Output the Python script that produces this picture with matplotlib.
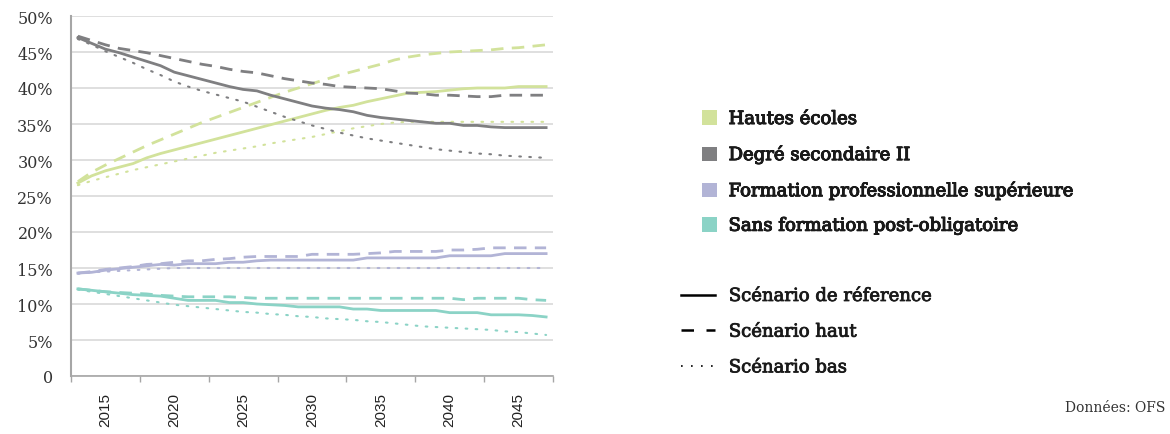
import matplotlib
matplotlib.use("Agg")
import matplotlib.pyplot as plt
from matplotlib.patches import Patch
from matplotlib.lines import Line2D
import matplotlib.patheffects as pe
import numpy as np

years = list(range(2013, 2048))

he_ref = [26.8, 27.8, 28.5, 29.0, 29.5, 30.3, 30.9, 31.4, 31.9, 32.4, 32.9, 33.4, 33.9, 34.4, 34.9,
          35.4, 35.9, 36.4, 36.9, 37.3, 37.6, 38.1, 38.5, 38.9, 39.3, 39.4, 39.5, 39.7, 39.9, 40.0,
          40.0, 40.0, 40.2, 40.2, 40.2]
he_high = [27.0, 28.3, 29.3, 30.2, 31.1, 32.0, 32.8, 33.6, 34.4, 35.2, 35.9, 36.6, 37.3, 38.0, 38.7,
           39.4, 40.0, 40.6, 41.2, 41.8, 42.3, 42.8, 43.3, 43.9, 44.3, 44.6, 44.8, 45.0, 45.1, 45.2,
           45.3, 45.5, 45.6, 45.8, 46.0]
he_low = [26.5, 27.1, 27.6, 28.1, 28.6, 29.0, 29.4, 29.8, 30.2, 30.6, 31.0, 31.3, 31.6, 31.9, 32.3,
          32.6, 32.9, 33.2, 33.6, 34.0, 34.4, 34.7, 35.0, 35.2, 35.3, 35.3, 35.3, 35.3, 35.3, 35.3,
          35.3, 35.3, 35.3, 35.3, 35.3]

ds_ref = [47.0, 46.2, 45.4, 44.9, 44.3, 43.7, 43.1, 42.2, 41.7, 41.2, 40.7, 40.2, 39.8, 39.6, 39.0,
          38.5, 38.0, 37.5, 37.2, 37.0, 36.7, 36.2, 35.9, 35.7, 35.5, 35.3, 35.1, 35.1, 34.8, 34.8,
          34.6, 34.5, 34.5, 34.5, 34.5]
ds_high = [47.2, 46.6, 46.0, 45.5, 45.2, 44.9, 44.5, 44.1, 43.7, 43.3, 43.0, 42.6, 42.3, 42.1, 41.7,
           41.3, 41.0, 40.7, 40.5, 40.2, 40.1, 40.0, 39.9, 39.6, 39.3, 39.2, 39.0, 39.0, 38.9, 38.8,
           38.8, 39.0, 39.0, 39.0, 39.0]
ds_low = [46.8, 46.0, 45.1, 44.3, 43.5, 42.6, 41.8, 40.9, 40.2, 39.6, 39.1, 38.6, 38.1, 37.4, 36.7,
          36.0, 35.4, 34.8, 34.3, 33.8, 33.4, 33.0, 32.7, 32.4, 32.1, 31.8, 31.5, 31.3, 31.1, 30.9,
          30.8, 30.6, 30.5, 30.4, 30.3]

fps_ref = [14.3, 14.4, 14.7, 14.9, 15.1, 15.3, 15.5, 15.4, 15.6, 15.6, 15.6, 15.8, 15.8, 16.0, 16.1,
           16.1, 16.1, 16.1, 16.1, 16.1, 16.1, 16.4, 16.4, 16.4, 16.4, 16.4, 16.4, 16.7, 16.7, 16.7,
           16.7, 17.0, 17.0, 17.0, 17.0]
fps_high = [14.3, 14.5, 14.8, 15.0, 15.2, 15.5, 15.6, 15.8, 16.0, 16.0, 16.2, 16.3, 16.5, 16.6, 16.6,
            16.6, 16.6, 16.9, 16.9, 16.9, 16.9, 17.0, 17.1, 17.3, 17.3, 17.3, 17.3, 17.5, 17.5, 17.6,
            17.8, 17.8, 17.8, 17.8, 17.8]
fps_low = [14.2, 14.4, 14.5, 14.6, 14.7, 14.8, 14.9, 15.0, 15.0, 15.0, 15.0, 15.0, 15.0, 15.0, 15.0,
           15.0, 15.0, 15.0, 15.0, 15.0, 15.0, 15.0, 15.0, 15.0, 15.0, 15.0, 15.0, 15.0, 15.0, 15.0,
           15.0, 15.0, 15.0, 15.0, 15.0]

sf_ref = [12.1, 11.9, 11.7, 11.5, 11.3, 11.2, 11.1, 10.8, 10.5, 10.5, 10.5, 10.2, 10.2, 10.0, 9.9,
          9.8, 9.6, 9.6, 9.6, 9.6, 9.3, 9.3, 9.1, 9.1, 9.1, 9.1, 9.1, 8.8, 8.8, 8.8,
          8.5, 8.5, 8.5, 8.4, 8.2]
sf_high = [12.1, 11.9, 11.7, 11.6, 11.5, 11.4, 11.2, 11.1, 11.0, 11.0, 11.0, 11.0, 10.9, 10.8, 10.8,
           10.8, 10.8, 10.8, 10.8, 10.8, 10.8, 10.8, 10.8, 10.8, 10.8, 10.8, 10.8, 10.8, 10.6, 10.8,
           10.8, 10.8, 10.8, 10.6, 10.5]
sf_low = [12.0, 11.7, 11.4, 11.1, 10.8, 10.5, 10.2, 9.9, 9.7, 9.5, 9.3, 9.1, 8.9, 8.8, 8.6,
          8.5, 8.3, 8.2, 8.0, 7.9, 7.8, 7.6, 7.5, 7.3, 7.1, 6.9, 6.8, 6.7, 6.6, 6.5,
          6.4, 6.2, 6.1, 5.9, 5.7]

categories = ["Hautes écoles", "Degré secondaire II",
              "Formation professionnelle supérieure", "Sans formation post-obligatoire"]
scenarios = ["Scénario de réference", "Scénario haut", "Scénario bas"]
yticks = [0, 5, 10, 15, 20, 25, 30, 35, 40, 45, 50]
ytick_labels = ["0", "5%", "10%", "15%", "20%", "25%", "30%", "35%", "40%", "45%", "50%"]
xtick_years = [2015, 2020, 2025, 2030, 2035, 2040, 2045]
source = "Données: OFS"

colors = ["#d2e29b", "#7f7f81", "#b2b4d6", "#8bd3c6"]
series = [(he_ref, he_high, he_low), (ds_ref, ds_high, ds_low),
          (fps_ref, fps_high, fps_low), (sf_ref, sf_high, sf_low)]

serif = ["DejaVu Serif"]

fig = plt.figure(figsize=(11.7, 4.35), dpi=100)
ax = fig.add_axes([71/1170, 1 - 377/435, (553 - 71)/1170, (377 - 17)/435])

dash_style = (0, (4.5, 3))
dot_style = (0, (0.8, 4))
for col, (r, h, l) in zip(colors, series):
    ax.plot(years, l, color=col, lw=1.5, linestyle=dot_style, dash_capstyle="round")
    ax.plot(years, h, color=col, lw=2.0, linestyle=dash_style)
    ax.plot(years, r, color=col, lw=2.0, linestyle="-")

ax.set_xlim(2012.5, 2047.5)
ax.set_ylim(0, 50)
ax.set_yticks(yticks)
ax.set_yticklabels(ytick_labels, family=serif, fontsize=11.5, color="#333333")
ax.tick_params(axis="y", length=0, pad=13)
ax.yaxis.grid(True, color="#d9d9d9", lw=1.2)
ax.set_axisbelow(True)

ax.set_xticks(xtick_years)
ax.set_xticklabels([str(y) for y in xtick_years], rotation=90, family=["Liberation Sans"],
                   fontsize=11, color="#222222")
ax.set_xticks(np.arange(2012.5, 2048, 5), minor=True)
ax.tick_params(axis="x", which="major", length=0, pad=11.5)
ax.tick_params(axis="x", which="minor", length=4, color="#a6a6a6", width=1)

for s in ["top", "right"]:
    ax.spines[s].set_visible(False)
ax.spines["left"].set_color("#a6a6a6")
ax.spines["left"].set_linewidth(1.5)
ax.spines["bottom"].set_color("#a6a6a6")
ax.spines["bottom"].set_linewidth(1.2)

legend_font = {"family": serif, "size": 13, "weight": "normal"}
stroke = [pe.withStroke(linewidth=0.6, foreground="#1a1a1a")]
h1 = [Patch(facecolor=c, edgecolor="none") for c in colors]
leg1 = fig.legend(h1, categories, loc="upper left", bbox_to_anchor=(0.600, 0.745),
                  frameon=False, prop=legend_font, handlelength=0.85, handleheight=0.85,
                  handletextpad=0.62, labelspacing=0.92, borderpad=0, borderaxespad=0)
for t in leg1.get_texts():
    t.set_color("#1a1a1a")
    t.set_path_effects(stroke)
fig.add_artist(leg1)
h2 = [Line2D([], [], color="black", lw=1.8, linestyle="-"),
      Line2D([], [], color="black", lw=1.8, linestyle=(0, (5, 5))),
      Line2D([], [], color="black", lw=1.2, linestyle=(0, (1, 5)))]
leg2 = fig.legend(h2, scenarios, loc="upper left", bbox_to_anchor=(0.582, 0.338),
                  frameon=False, prop=legend_font, handlelength=1.9,
                  handletextpad=0.75, labelspacing=0.98, borderpad=0, borderaxespad=0)
for t in leg2.get_texts():
    t.set_color("#1a1a1a")
    t.set_path_effects(stroke)

fig.text(0.996, 0.062, source, ha="right", va="center", family=serif, fontsize=10,
         color="#333333")

fig.savefig("out.png", dpi=100, facecolor="white")
